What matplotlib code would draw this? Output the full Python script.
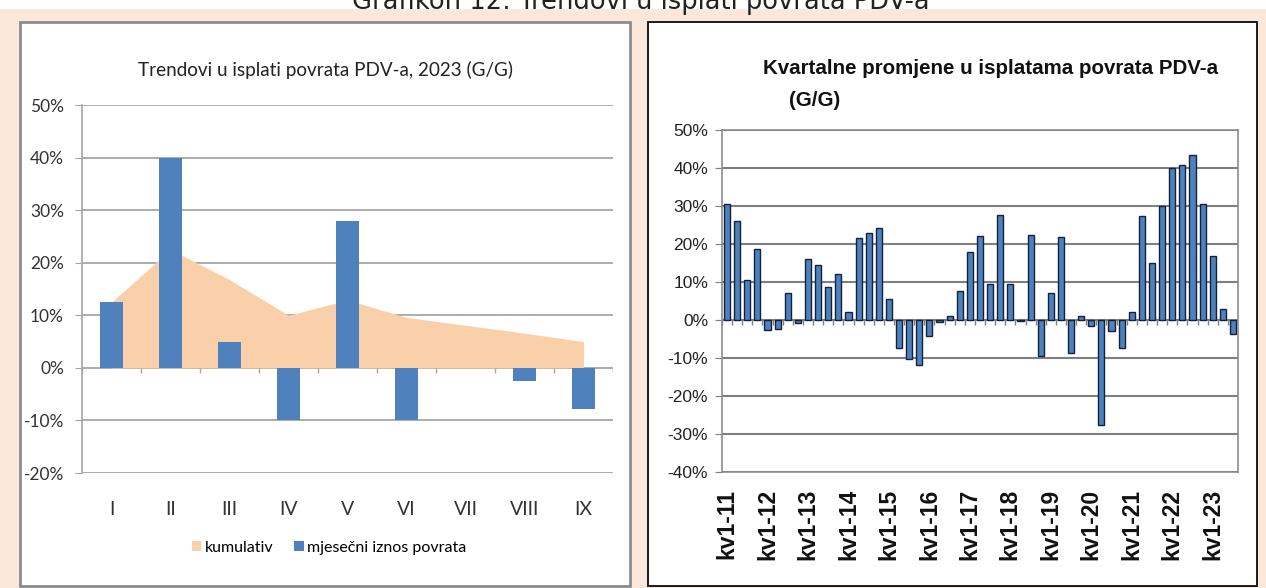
import matplotlib
matplotlib.use("Agg")
import matplotlib.pyplot as plt
from matplotlib.patches import Rectangle, Patch
from matplotlib.ticker import FuncFormatter
import numpy as np

W, H = 1266, 588

# left chart: monthly VAT refunds 2023 (y/y)
months = ["I", "II", "III", "IV", "V", "VI", "VII", "VIII", "IX"]
monthly = [12.5, 40.0, 5.0, -10.0, 28.0, -10.0, 0.0, -2.5, -7.8]
cumulative = [12.5, 22.5, 16.8, 10.0, 12.9, 9.6, 8.1, 6.6, 5.0]

# right chart: quarterly changes (y/y), kv1-11 ... kv3-23
quarterly = [
    30.6, 26.0, 10.4, 18.8,
    -2.6, -2.4, 7.2, -0.9,
    16.0, 14.6, 8.7, 12.1,
    2.0, 21.5, 22.9, 24.3,
    5.5, -7.4, -10.2, -11.9,
    -4.3, -0.5, 1.1, 7.6,
    18.0, 22.1, 9.5, 27.7,
    9.5, -0.3, 22.5, -9.4,
    7.1, 21.9, -8.7, 1.0,
    -1.6, -27.7, -2.9, -7.3,
    2.2, 27.3, 15.1, 30.1,
    40.1, 40.7, 43.4, 30.4,
    16.9, 2.8, -3.6,
]
years = [f"kv1-{y}" for y in range(11, 24)]

PEACH = "#FCE8DA"
BLUE = "#4F81BD"
AREA = "#FAD0AB"
NARROW = ["Lato", "DejaVu Sans"]


def rect(x0, y0, x1, y1):
    """pixel box (top-left origin) -> figure rect"""
    return [x0 / W, 1 - y1 / H, (x1 - x0) / W, (y1 - y0) / H]


def fx(x):
    return x / W


def fy(y):
    return 1 - y / H


pct = FuncFormatter(lambda v, _: f"{v:.0f}%")

fig = plt.figure(figsize=(W / 100, H / 100), dpi=100)
fig.patch.set_facecolor("white")

# background and panel frames
fig.add_artist(Rectangle((0, 0), 1, fy(9), transform=fig.transFigure,
                         facecolor=PEACH, edgecolor="none", zorder=-10))
x0, y0, w, h = rect(20, 22, 630, 586)
fig.add_artist(Rectangle((x0, y0), w, h, transform=fig.transFigure,
                         facecolor="white", edgecolor="#8C8C8C", linewidth=2, zorder=-9))
x0, y0, w, h = rect(648, 22, 1257, 586)
fig.add_artist(Rectangle((x0, y0), w, h, transform=fig.transFigure,
                         facecolor="white", edgecolor="#1A1A1A", linewidth=1.4, zorder=-9))

# page caption, cut by the top edge as in the source scan
fig.text(fx(641), fy(9), "Grafikon 12: Trendovi u isplati povrata PDV-a",
         ha="center", va="baseline", fontsize=18.5, family="DejaVu Sans", color="#222222")

# ---------------- left chart ----------------
ax = fig.add_axes(rect(82, 105, 613, 473))
xs = np.arange(len(months))
ax.set_xlim(-0.5, len(months) - 0.5)
ax.set_ylim(-20, 50)
ax.set_yticks(np.arange(-20, 51, 10))
ax.yaxis.set_major_formatter(pct)
ax.grid(axis="y", color="#A6A6A6", linewidth=1.3, zorder=0)
ax.set_axisbelow(True)

ax.fill_between(xs, cumulative, 0, color=AREA, linewidth=0, zorder=1)
ax.bar(xs, monthly, width=0.4, color=BLUE, zorder=2)
ax.vlines(np.arange(len(months) + 1) - 0.5, 0, -1.0, color="#A6A6A6", linewidth=1, zorder=2)

for s in ["top", "right", "bottom"]:
    ax.spines[s].set_visible(False)
ax.spines["left"].set_color("#A6A6A6")
ax.spines["left"].set_linewidth(1.2)
ax.tick_params(axis="y", length=5, color="#A6A6A6", labelsize=12.5, pad=8, labelcolor="#333333")
ax.set_xticks(xs)
ax.set_xticklabels(months)
ax.tick_params(axis="x", length=0, labelsize=14, pad=20, labelcolor="#333333")
for lbl in ax.get_xticklabels() + ax.get_yticklabels():
    lbl.set_family(NARROW)

fig.text(fx(326), fy(70), "Trendovi u isplati povrata PDV-a, 2023 (G/G)",
         ha="center", va="center", fontsize=13.6, family=NARROW, color="#222222")

handles = [Patch(facecolor=AREA, edgecolor="none"), Patch(facecolor=BLUE, edgecolor="none")]
fig.legend(handles, ["kumulativ", "mjesečni iznos povrata"], loc="center",
           bbox_to_anchor=(fx(329), fy(548)), ncol=2, frameon=False,
           handlelength=0.6, handleheight=0.6, handletextpad=0.2, columnspacing=1.3,
           prop={"family": NARROW, "size": 11.5})

# ---------------- right chart ----------------
ax2 = fig.add_axes(rect(722, 130, 1238, 472))
qx = np.arange(len(quarterly))
ax2.set_xlim(-0.5, len(quarterly) - 0.5)
ax2.set_ylim(-40, 50)
ax2.set_yticks(np.arange(-40, 51, 10))
ax2.yaxis.set_major_formatter(pct)
ax2.grid(axis="y", color="#7F7F7F", linewidth=1.5, zorder=0)
ax2.set_axisbelow(True)

ax2.bar(qx, quarterly, width=0.6, color=BLUE, edgecolor="#14213D", linewidth=1.0, zorder=2)
ax2.vlines(np.arange(len(quarterly) + 1) - 0.5, 0, -1.2, color="#7F7F7F", linewidth=1, zorder=1)

for s in ax2.spines.values():
    s.set_color("#8C8C8C")
    s.set_linewidth(1.2)
ax2.tick_params(axis="y", length=5, color="#7F7F7F", labelsize=12.5, pad=5, labelcolor="#222222")
ax2.set_xticks(qx[::4])
ax2.set_xticklabels(years, rotation=90, fontweight="bold")
ax2.tick_params(axis="x", length=0, labelsize=16.5, pad=12, labelcolor="#111111")
for lbl in ax2.get_xticklabels() + ax2.get_yticklabels():
    lbl.set_family("Liberation Sans")

fig.text(fx(991), fy(68), "Kvartalne promjene u isplatama povrata PDV-a",
         ha="center", va="center", fontsize=14.8, fontweight="bold",
         family="Liberation Sans", color="#111111")
fig.text(fx(815), fy(100), "(G/G)", ha="center", va="center", fontsize=14.8,
         fontweight="bold", family="Liberation Sans", color="#111111")

fig.savefig("out.png", dpi=100, facecolor=fig.get_facecolor())
